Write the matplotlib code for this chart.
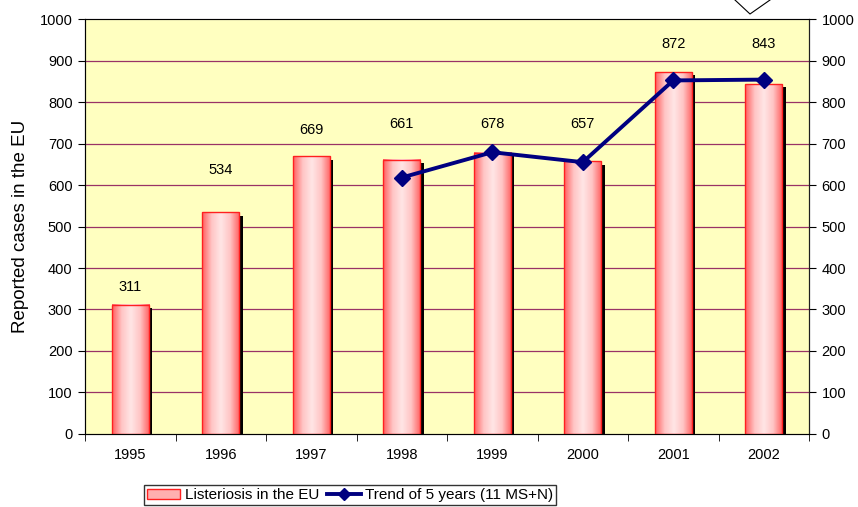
import matplotlib.pyplot as plt
import numpy as np
from matplotlib.colors import LinearSegmentedColormap
from matplotlib.lines import Line2D
from matplotlib.patches import Patch

plt.rcParams['font.family'] = ['Liberation Sans', 'DejaVu Sans']

# data
years = ['1995', '1996', '1997', '1998', '1999', '2000', '2001', '2002']
cases = [311, 534, 669, 661, 678, 657, 872, 843]
label_pos = [354, 636, 733, 747, 747, 747, 940, 940]
trend_years = [3, 4, 5, 6, 7]
trend = [618, 679, 655, 852, 854]

fig = plt.figure(figsize=(8.58, 5.07), dpi=100)
ax = fig.add_axes([0.0991, 0.144, 0.8438, 0.8185])
ax.set_facecolor('#FFFFC0')

x = np.arange(len(years))
w = 0.41
cmap = LinearSegmentedColormap.from_list('pink', ['#FF6060', '#FFC4C4', '#FFE6E6', '#FFC4C4', '#FF6060'])
grad = np.linspace(0, 1, 64).reshape(1, -1)

for xi, v in zip(x, cases):
    # shadow, a bit right and lower
    ax.add_patch(plt.Rectangle((xi - w / 2 + 0.038, -20), w, v + 12, facecolor='black', edgecolor='none', zorder=2))
    ax.imshow(grad, cmap=cmap, extent=(xi - w / 2, xi + w / 2, 0, v), aspect='auto', zorder=3)
    ax.add_patch(plt.Rectangle((xi - w / 2, 0), w, v, facecolor='none', edgecolor='#FF2020', lw=1, zorder=4))

for xi, v, p in zip(x, cases, label_pos):
    ax.text(xi, p, str(v), ha='center', va='center', fontsize=10.5, zorder=6)

ax.plot(trend_years, trend, color='#000080', lw=2.8, marker='D', ms=8, zorder=5)

ax.set_xlim(-0.5, len(years) - 0.5)
ax.set_ylim(0, 1000)
ax.set_yticks(range(0, 1001, 100))
ax.set_xticks(x)
ax.set_xticklabels(years)
ax.set_xticks(np.arange(-0.5, len(years), 1), minor=True)
ax.tick_params(axis='x', which='major', length=0, pad=10, labelsize=10.5)
ax.tick_params(axis='x', which='minor', length=5, direction='out')
ax.tick_params(axis='y', length=5, direction='out', labelsize=10.5, pad=4)
for yv in range(100, 1000, 100):
    ax.axhline(yv, color='#993366', lw=0.9, zorder=1)
ax.spines['top'].set_color('#8C7B8C')
ax.spines['left'].set_color('#404040')
ax.spines['bottom'].set_color('#404040')
ax.set_ylabel('Reported cases in the EU', fontsize=13.5, labelpad=8)

ax2 = ax.twinx()
ax2.set_ylim(0, 1000)
ax2.set_yticks(range(0, 1001, 100))
ax2.tick_params(axis='y', length=5, direction='out', labelsize=10.5, pad=4)
ax2.spines['right'].set_color('#202020')

handles = [Patch(facecolor='#FFB0B0', edgecolor='#FF2020', lw=1),
           Line2D([], [], color='#000080', lw=2.8, marker='D', ms=6)]
fig.legend(handles, ['Listeriosis in the EU', 'Trend of 5 years (11 MS+N)'],
           loc='lower center', bbox_to_anchor=(0.408, 0.0), ncol=2, fontsize=11,
           frameon=True, fancybox=False, edgecolor='black', handlelength=2.2,
           columnspacing=0.5, handletextpad=0.3, borderpad=0.2, borderaxespad=0.1)

# corner of the shape cut off at the top
fig.add_artist(Line2D([735 / 858, 750 / 858, 770 / 858], [1, 1 - 14 / 507, 1], color='black', lw=0.8))

fig.savefig('out.png', dpi=100)
